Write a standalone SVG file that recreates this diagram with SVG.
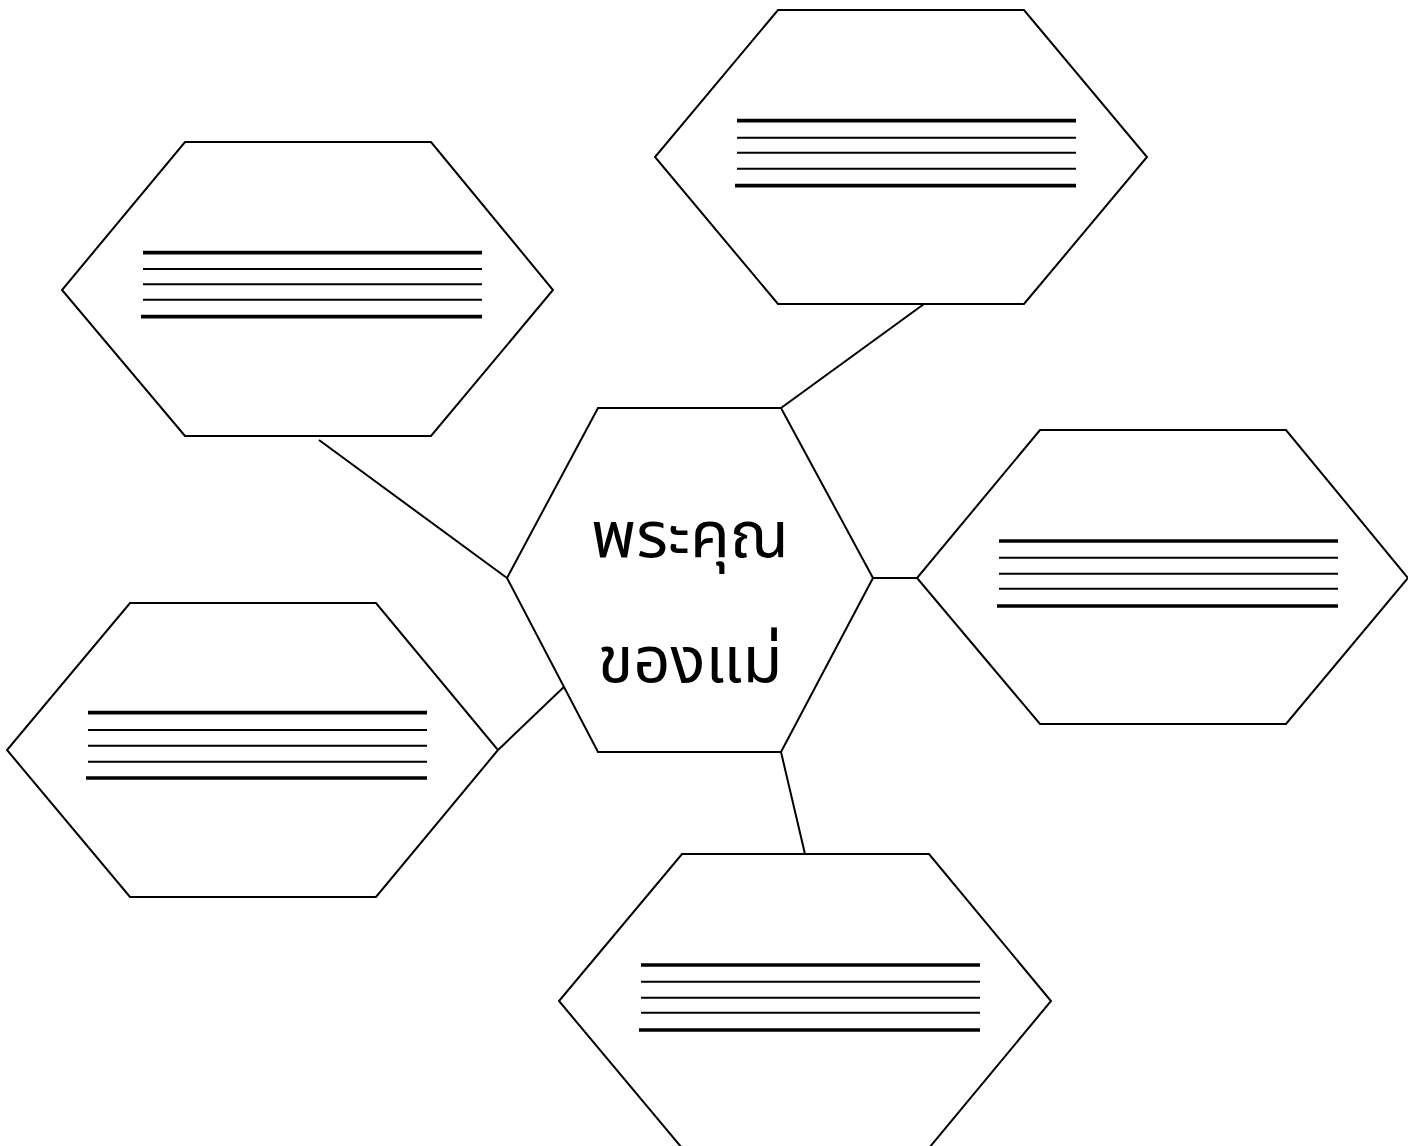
<svg xmlns="http://www.w3.org/2000/svg" width="1408" height="1146" viewBox="0 0 1408 1146">
<style>
.hex{fill:#fff;stroke:#000;stroke-width:2;stroke-linejoin:miter}
.thin{stroke:#000;stroke-width:2}
.thick{stroke:#000;stroke-width:3.7}
.conn{stroke:#000;stroke-width:2;fill:none}
.t{font-family:"Noto Sans Thai","Loma","Garuda","Noto Sans",sans-serif;font-size:65px;fill:#000;text-anchor:middle}
</style>
<rect width="1408" height="1146" fill="#fff"/>
<g id="connectors">
<line class="conn" x1="924" y1="304" x2="781" y2="408"/>
<line class="conn" x1="319" y1="440" x2="507" y2="578"/>
<line class="conn" x1="873" y1="578" x2="917" y2="578"/>
<line class="conn" x1="781" y1="752" x2="805" y2="854"/>
<line class="conn" x1="498" y1="750" x2="567" y2="684"/>
</g>
<g id="center">
<polygon class="hex" points="598,408 781,408 873,578 781,752 598,752 507,578"/>
<text class="t" x="690" y="557">พระคุณ</text>
<text class="t" x="690" y="682">ของแม่</text>
</g>
<g id="top">
<polygon class="hex" points="778,10 1024,10 1147,157 1024,304 778,304 655,157"/>
<line class="thick" x1="737" y1="120.7" x2="1076" y2="120.7"/>
<line class="thin" x1="737" y1="137.7" x2="1076" y2="137.7"/>
<line class="thin" x1="737" y1="152.7" x2="1076" y2="152.7"/>
<line class="thin" x1="737" y1="168.7" x2="1076" y2="168.7"/>
<line class="thick" x1="735" y1="185.7" x2="1076" y2="185.7"/>
</g>
<g id="left-top">
<polygon class="hex" points="185,142 431,142 553,290 431,436 185,436 62,290"/>
<line class="thick" x1="143" y1="252.7" x2="482" y2="252.7"/>
<line class="thin" x1="143" y1="269" x2="482" y2="269"/>
<line class="thin" x1="143" y1="284.3" x2="482" y2="284.3"/>
<line class="thin" x1="143" y1="299.7" x2="482" y2="299.7"/>
<line class="thick" x1="141" y1="316.7" x2="482" y2="316.7"/>
</g>
<g id="right">
<polygon class="hex" points="1040,430 1286,430 1408,578 1286,724 1040,724 917,578"/>
<line class="thick" x1="999" y1="541" x2="1338" y2="541"/>
<line class="thin" x1="999" y1="557.7" x2="1338" y2="557.7"/>
<line class="thin" x1="999" y1="573.7" x2="1338" y2="573.7"/>
<line class="thin" x1="999" y1="588.7" x2="1338" y2="588.7"/>
<line class="thick" x1="997" y1="606" x2="1338" y2="606"/>
</g>
<g id="left-bottom">
<polygon class="hex" points="130,603 376,603 498,750 376,897 130,897 7,750"/>
<line class="thick" x1="88" y1="712.7" x2="427" y2="712.7"/>
<line class="thin" x1="88" y1="730" x2="427" y2="730"/>
<line class="thin" x1="88" y1="745.7" x2="427" y2="745.7"/>
<line class="thin" x1="88" y1="761.7" x2="427" y2="761.7"/>
<line class="thick" x1="86" y1="778" x2="427" y2="778"/>
</g>
<g id="bottom">
<polygon class="hex" points="682,854 929,854 1051,1001 929,1148 682,1148 559,1001"/>
<line class="thick" x1="641" y1="965" x2="980" y2="965"/>
<line class="thin" x1="641" y1="981.7" x2="980" y2="981.7"/>
<line class="thin" x1="641" y1="997.7" x2="980" y2="997.7"/>
<line class="thin" x1="641" y1="1012.7" x2="980" y2="1012.7"/>
<line class="thick" x1="639" y1="1030" x2="980" y2="1030"/>
</g>
</svg>
